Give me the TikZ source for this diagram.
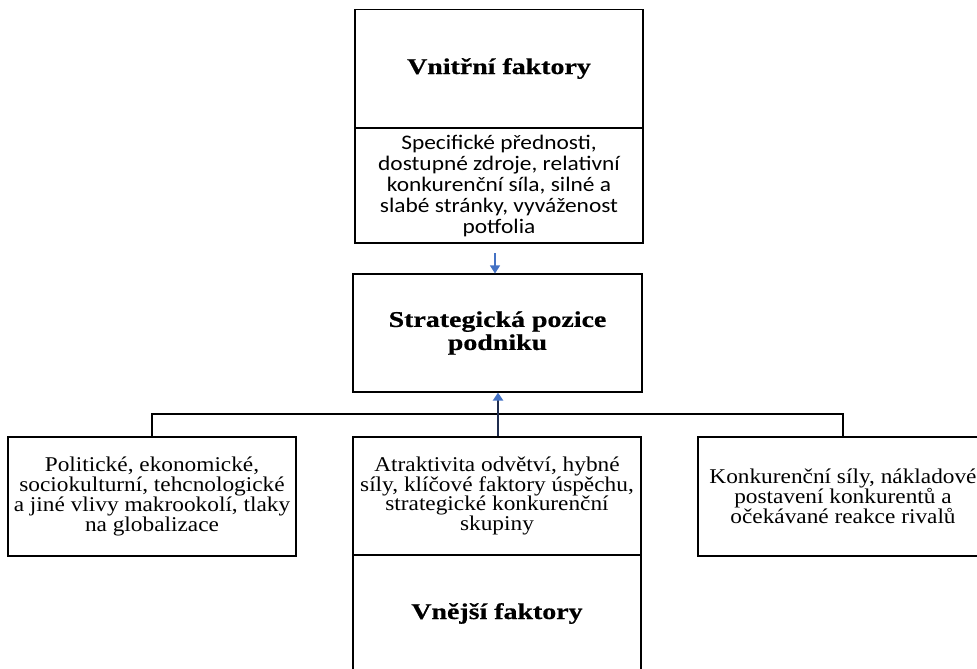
\documentclass[tikz,border=0pt]{standalone}
\usepackage{fontspec}
\setmainfont[FakeStretch=1.11]{Liberation Serif}
\newfontfamily\headfont[FakeStretch=1.24,BoldFeatures={FakeBold=0.6}]{Liberation Serif}
\newfontfamily\calibrifont[FakeStretch=1.13]{Carlito}
\usetikzlibrary{arrows.meta}
\definecolor{arrowblue}{HTML}{4472C4}
\definecolor{linenavy}{HTML}{1F2D4F}
\tikzset{
  box/.style={draw=black,line width=1.1pt,minimum width=288pt,align=center,inner sep=2pt},
  headtext/.style={font=\headfont\fontsize{22.5}{23}\selectfont\bfseries},
  serifnote/.style={font=\fontsize{21}{19.8}\selectfont},
  sansnote/.style={font=\calibrifont\fontsize{20.7}{21}\selectfont},
  link/.style={line width=1.1pt,black},
  tip/.style={-{Triangle[width=10pt,length=8pt,color=arrowblue]}}
}
\begin{document}
\begin{tikzpicture}[x=1pt,y=-1pt]
                    \useasboundingbox (0,0) rectangle (977,669);
                    \node[box,headtext,minimum height=118pt] (vnitrni) at (499,68.5) {Vnitřní faktory};
                    \node[box,sansnote,minimum height=115pt] (zdroje) at (499,185.5)
                        {Specifické přednosti,\\dostupné zdroje, relativní\\konkurenční síla, silné a\\slabé stránky, vyváženost\\potfolia};
                    \node[box,headtext,minimum height=118pt,minimum width=289pt] (pozice) at (497.5,333)
                        {Strategická pozice\\podniku};
                    \node[box,serifnote,minimum height=119pt] (makro) at (152,496.5)
                        {Politické, ekonomické,\\sociokulturní, tehcnologické\\a jiné vlivy makrookolí, tlaky\\na globalizace};
                    \node[box,serifnote,minimum height=118pt] (odvetvi) at (497,496)
                        {Atraktivita odvětví, hybné\\síly, klíčové faktory úspěchu,\\strategické konkurenční\\skupiny};
                    \node[box,headtext,minimum height=117pt] (vnejsi) at (497,613.5) {Vnější faktory};
                    \node[box,serifnote,minimum height=119pt,minimum width=290pt] (rivalove) at (843,496.5)
                        {Konkurenční síly, nákladové\\postavení konkurentů a\\očekávané reakce rivalů};
                    \coordinate (start) at (495,253);
                    \coordinate (uzel) at (498,414);
                    \draw[line width=1.1pt,arrowblue,tip] (start) -- (start |- pozice.north);
                    \draw[link] (makro.north) |- (uzel) -| (rivalove.north);
                    \draw[line width=2pt,linenavy,tip] (odvetvi.north -| uzel) -- (pozice.south -| uzel);
                \end{tikzpicture}
\end{document}
